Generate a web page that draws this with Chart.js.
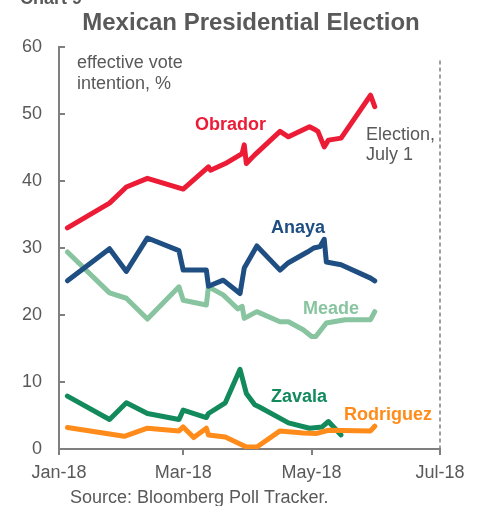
<!DOCTYPE html>
<html>
<head>
<meta charset="utf-8">
<script src="https://cdn.jsdelivr.net/npm/chart.js@4/dist/chart.umd.min.js"></script>
<style>
html,body{margin:0;padding:0;background:#fff;}
canvas{display:block;}
</style>
</head>
<body>
<canvas id="c" width="481" height="506"></canvas>
<script>
// ---- data ----
const obradorDates = ['2018-01-05','2018-01-25','2018-02-02','2018-02-12','2018-03-01','2018-03-13','2018-03-14','2018-03-21','2018-03-29','2018-03-30','2018-03-31','2018-04-04','2018-04-16','2018-04-20','2018-04-30','2018-05-03','2018-05-04','2018-05-07','2018-05-09','2018-05-15','2018-05-29','2018-05-31'];
const obradorValues = [33.0,36.7,39.1,40.4,38.8,42.1,41.6,42.6,44.1,45.4,42.6,43.9,47.4,46.6,48.1,47.6,47.4,45.1,46.1,46.4,52.8,51.1];

const anayaDates = ['2018-01-05','2018-01-25','2018-02-02','2018-02-12','2018-02-27','2018-03-01','2018-03-12','2018-03-13','2018-03-20','2018-03-28','2018-03-30','2018-04-05','2018-04-16','2018-04-20','2018-04-29','2018-05-02','2018-05-05','2018-05-07','2018-05-08','2018-05-15','2018-05-29','2018-05-31'];
const anayaValues = [25.1,29.9,26.5,31.5,29.6,26.7,26.7,24.3,25.2,23.2,27.0,30.3,26.7,27.8,29.4,30.0,30.2,31.3,27.9,27.5,25.5,25.1];

const meadeDates = ['2018-01-05','2018-01-25','2018-02-02','2018-02-12','2018-02-27','2018-03-01','2018-03-12','2018-03-13','2018-03-20','2018-03-27','2018-03-29','2018-03-30','2018-04-05','2018-04-16','2018-04-20','2018-04-27','2018-05-01','2018-05-03','2018-05-08','2018-05-17','2018-05-29','2018-05-31'];
const meadeValues = [29.4,23.3,22.5,19.4,24.2,22.2,21.5,24.2,23.0,20.9,21.3,19.5,20.5,19.0,19.0,17.8,16.8,16.8,18.8,19.3,19.3,20.5];

const zavalaDates = ['2018-01-05','2018-01-25','2018-02-02','2018-02-12','2018-02-27','2018-03-01','2018-03-12','2018-03-13','2018-03-21','2018-03-28','2018-03-31','2018-04-04','2018-04-06','2018-04-20','2018-04-30','2018-05-06','2018-05-09','2018-05-12','2018-05-15'];
const zavalaValues = [7.9,4.4,6.9,5.3,4.4,5.8,4.7,5.3,6.9,11.9,8.3,6.6,6.3,3.9,3.1,3.3,4.1,3.1,2.1];

const rodriguezDates = ['2018-01-05','2018-02-01','2018-02-12','2018-02-27','2018-03-01','2018-03-06','2018-03-12','2018-03-13','2018-03-21','2018-03-31','2018-04-05','2018-04-16','2018-04-27','2018-05-03','2018-05-09','2018-05-29','2018-05-31'];
const rodriguezValues = [3.2,1.9,3.1,2.7,3.3,1.7,3.1,2.1,1.8,0.3,0.3,2.7,2.4,2.3,2.8,2.7,3.4];

const xTickDates = ['2018-01-01','2018-03-01','2018-05-01','2018-07-01'];
const xTickLabels = ['Jan-18','Mar-18','May-18','Jul-18'];
const electionDate = '2018-07-01';

// ---- helpers ----
const T0 = Date.UTC(2018,0,1);
function dayOf(s){const p=s.split('-').map(Number);return (Date.UTC(p[0],p[1]-1,p[2])-T0)/86400000;}
function pts(dates, vals){return dates.map((d,i)=>({x:dayOf(d),y:vals[i]}));}
const xTicks = xTickDates.map(dayOf);

const GRAY = '#595959';
const AXIS = '#7f7f7f';
const FONT = '"Liberation Sans", Arial, Helvetica, sans-serif';

function ds(label, data, color){
  return {label, data, borderColor:color, backgroundColor:color, borderWidth:5,
    pointRadius:0, pointHoverRadius:0, tension:0, borderCapStyle:'round', borderJoinStyle:'round', fill:false};
}

const textPlugin = {
  id:'texts',
  afterDatasetsDraw(chart){
    const ctx = chart.ctx;
    const xs = chart.scales.x, ys = chart.scales.y;
    ctx.save();
    // y ticks inward
    ctx.strokeStyle = AXIS; ctx.lineWidth = 2;
    ys.ticks.forEach(t=>{
      const y = Math.round(ys.getPixelForValue(t.value));
      ctx.beginPath(); ctx.moveTo(xs.left, y); ctx.lineTo(xs.left+6, y); ctx.stroke();
    });
    // election dashed line
    const ex = xs.getPixelForValue(dayOf(electionDate));
    ctx.strokeStyle = '#808080'; ctx.lineWidth = 1.5; ctx.setLineDash([4,3]);
    ctx.beginPath(); ctx.moveTo(ex, ys.getPixelForValue(58)); ctx.lineTo(ex, ys.bottom); ctx.stroke();
    ctx.setLineDash([]);
    // texts
    ctx.textBaseline = 'alphabetic';
    function t(str, x, y, color, bold, size, align){
      ctx.font = (bold?'bold ':'') + size + 'px ' + FONT;
      ctx.fillStyle = color; ctx.textAlign = align || 'left';
      ctx.fillText(str, x, y);
    }
    t('Chart 9', 20, 4, GRAY, true, 18);
    t('Mexican Presidential Election', 251, 30, GRAY, true, 24, 'center');
    t('effective vote', 77, 68, GRAY, false, 18);
    t('intention, %', 77, 89, GRAY, false, 18);
    t('Election,', 366, 140, GRAY, false, 18);
    t('July 1', 366, 160, GRAY, false, 18);
    t('Obrador', 195, 130, '#ed1c36', true, 18);
    t('Anaya', 271, 233, '#1f4e82', true, 18);
    t('Meade', 303, 314, '#88c4a0', true, 18);
    t('Zavala', 271, 402, '#128a5c', true, 18);
    t('Rodriguez', 344, 420, '#ff8c1a', true, 18);
    t('Source: Bloomberg Poll Tracker.', 70, 503, GRAY, false, 18);
    ctx.restore();
  }
};

new Chart(document.getElementById('c'), {
  type:'line',
  data:{datasets:[
    ds('Obrador', pts(obradorDates, obradorValues), '#ed1c36'),
    ds('Rodriguez', pts(rodriguezDates, rodriguezValues), '#ff8c1a'),
    ds('Zavala', pts(zavalaDates, zavalaValues), '#128a5c'),
    ds('Anaya', pts(anayaDates, anayaValues), '#1f4e82'),
    ds('Meade', pts(meadeDates, meadeValues), '#88c4a0')
  ]},
  options:{
    responsive:false, animation:false, devicePixelRatio:1,
    layout:{padding:{left:0,right:41,top:47,bottom:0}},
    plugins:{legend:{display:false}, tooltip:{enabled:false}, title:{display:false}},
    scales:{
      x:{type:'linear', min:xTicks[0], max:xTicks[xTicks.length-1],
        afterBuildTicks:s=>{s.ticks = xTicks.map(v=>({value:v}));},
        afterFit:s=>{s.height=57;},
        ticks:{autoSkip:false, maxRotation:0, padding:7, color:GRAY, font:{family:FONT,size:18},
          callback:(v)=>{const i=xTicks.indexOf(v);return i>=0?xTickLabels[i]:'';}},
        grid:{display:true, drawOnChartArea:false, drawTicks:true, tickLength:6, color:AXIS, lineWidth:2},
        border:{display:true, color:AXIS, width:2}
      },
      y:{min:0, max:60,
        afterFit:s=>{s.width=59;},
        ticks:{stepSize:10, padding:17, color:GRAY, font:{family:FONT,size:18}},
        grid:{display:true, drawOnChartArea:false, drawTicks:false},
        border:{display:true, color:AXIS, width:2}
      }
    }
  },
  plugins:[textPlugin]
});
</script>
</body>
</html>
